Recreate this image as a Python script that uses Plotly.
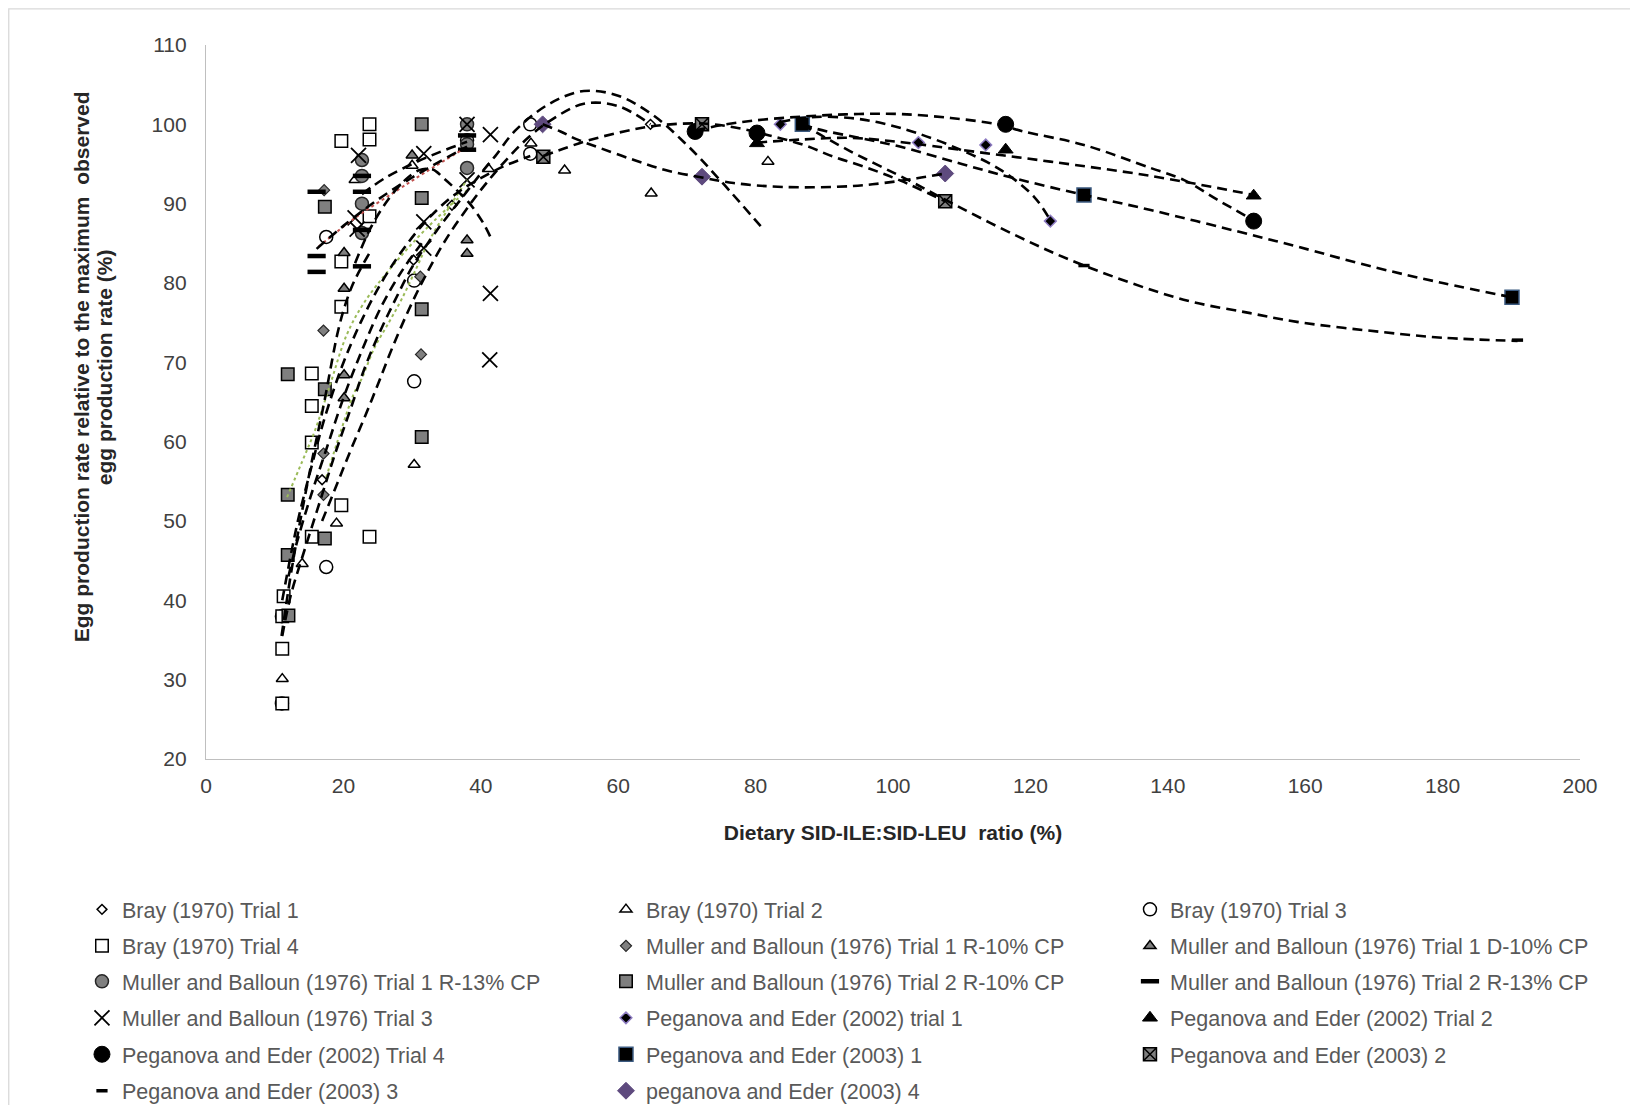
import plotly.graph_objects as go

# ---------------- data ----------------
bray1_x = [16.9, 30.2, 35.8, 64.7]
bray1_y = [55.2, 82.9, 89.8, 100.0]
bray2_x = [11.1, 14.0, 19.0, 30.3, 21.7, 23.8, 30.0, 41.1, 47.3, 52.2, 64.8, 81.8]
bray2_y = [30.1, 44.6, 49.7, 57.1, 93.0, 100.0, 94.8, 94.4, 97.6, 94.2, 91.3, 95.3]
bray3_x = [11.05, 11.05, 17.5, 17.5, 30.3, 30.3, 38.0, 47.2, 47.2]
bray3_y = [27.0, 38.0, 44.2, 85.8, 67.6, 80.3, 98.0, 100.0, 96.3]
bray4_x = [11.1, 11.1, 11.1, 11.3, 15.4, 15.4, 15.4, 15.4, 19.7, 19.7, 19.7, 19.7, 23.8, 23.8, 23.8, 23.8]
bray4_y = [27.0, 33.9, 38.0, 40.5, 48.0, 59.9, 64.5, 68.6, 52.0, 77.0, 82.7, 97.9, 48.0, 88.4, 98.1, 100.0]
m1r10_x = [17.2, 17.1, 17.1, 17.1, 31.3, 31.2]
m1r10_y = [91.7, 74.0, 58.5, 53.3, 71.0, 80.8]
m1d10_x = [20.1, 20.1, 20.1, 20.1, 30.0, 38.0, 38.0]
m1d10_y = [83.8, 79.3, 68.4, 65.5, 96.1, 85.4, 83.7]
m1r13_x = [22.7, 22.7, 22.7, 22.7, 38.0, 38.0, 38.0]
m1r13_y = [95.5, 93.5, 90.0, 86.3, 100.0, 97.5, 94.5]
m2r10_x = [11.9, 11.9, 11.9, 12.0, 17.3, 17.3, 17.3, 31.4, 31.4, 31.4, 31.4]
m2r10_y = [68.5, 53.3, 45.7, 38.1, 89.6, 66.6, 47.8, 100.0, 90.7, 76.7, 60.6]
m2r13_x = [16.1, 16.1, 16.1, 22.7, 22.7, 22.7, 22.7, 38.0, 38.0]
m2r13_y = [91.5, 83.4, 81.4, 91.5, 93.5, 86.7, 82.1, 98.6, 96.8]
m3_x = [22.2, 21.7, 22.0, 31.7, 31.7, 31.7, 38.0, 38.0, 41.4, 41.4, 41.3]
m3_y = [96.1, 88.2, 86.8, 96.3, 87.7, 84.4, 100.0, 93.0, 98.7, 78.7, 70.3]
p02t1_x = [83.6, 103.7, 113.5, 122.9]
p02t1_y = [100.0, 97.7, 97.4, 87.8]
p02t2_x = [80.2, 116.4, 152.5]
p02t2_y = [97.6, 96.8, 91.0]
p02t4_x = [71.2, 80.2, 116.4, 152.5]
p02t4_y = [99.1, 98.9, 100.0, 87.8]
p03a_x = [86.8, 127.8, 190.1]
p03a_y = [100.0, 91.1, 78.2]
p03b_x = [49.1, 72.2, 107.6]
p03b_y = [95.9, 100.0, 90.3]
p03c_x = [86.8, 127.8, 190.9]
p03c_y = [100.0, 82.2, 72.8]
p03d_x = [49.0, 72.2, 107.6]
p03d_y = [100.0, 93.4, 93.8]

# trend lines (read along the dashed curves of the reference)
tr_bray1_x = [16.9, 19, 21, 23.2, 25.1, 27.1, 29.5, 32, 35, 38.5, 41, 44, 47, 50, 55, 60, 64.7]
tr_bray1_y = [50, 54.5, 58.8, 63.3, 67.4, 71.8, 76.6, 81, 85.6, 90, 92.8, 95.8, 98.4, 100.4, 102.6, 102.3, 100]
tr_bray2_x = [11.1, 12.3, 14.4, 16.6, 18.8, 21, 23.2, 25.5, 27.5, 30, 33.5, 37.5, 40, 42.1, 45, 50, 55, 60, 65, 70, 75, 81.2]
tr_bray2_y = [35.5, 40.5, 46.5, 52.5, 58.5, 64, 69.5, 74.2, 77.8, 82, 86.5, 91, 93.8, 96, 99.2, 102.6, 104.2, 103.6, 101.2, 97.4, 92.8, 86.7]
tr_bray3_x = [11.1, 12.3, 13.5, 15.4, 17.1, 19.8, 22.5, 25.5, 28.5, 31.5, 35, 38, 40.4, 43.3, 47.2]
tr_bray3_y = [40, 45.5, 50.5, 57, 62.5, 69.5, 75, 80, 84, 87.3, 90.3, 92.2, 93.4, 94.7, 96]
tr_bray4_x = [11.0, 12.3, 13.5, 15.4, 17.1, 18.3, 19.1, 20, 21.2, 22.2, 23.8]
tr_bray4_y = [35.5, 43, 49, 57.5, 64.5, 70, 73.5, 76.5, 79.5, 81.3, 83.8]
tr_m2r10_x = [12, 13.2, 15.2, 17.5, 20, 22.7, 25.5, 28.5, 31.4]
tr_m2r10_y = [43, 47.2, 53, 59, 65.5, 71.5, 77, 81.5, 85]
tr_m1r13_x = [22.7, 26, 30, 34, 38]
tr_m1r13_y = [91.2, 93.2, 95, 96.5, 97.8]
tr_m2r13_x = [16.1, 20, 25, 30, 34, 38]
tr_m2r13_y = [84.3, 87.2, 90.5, 93.3, 95.3, 97.2]
tr_red_x = [16.4, 21.7, 27.5, 32, 37.3]
tr_red_y = [84.6, 88.2, 91.5, 94, 96.8]
tr_m3_x = [21.7, 24, 26.5, 29, 31, 33, 34.6, 36.5, 38.4, 40.4, 41.4]
tr_m3_y = [82.5, 87, 90.5, 93, 94.2, 94.3, 93.2, 91.7, 90, 87.5, 85.8]
tr_green1_x = [11.8, 14, 15.9, 18, 20.5, 23, 27, 32, 38]
tr_green1_y = [53, 57.5, 61.5, 67, 73.5, 77.5, 82, 86.8, 91.7]
tr_green2_x = [17.5, 19.5, 21.5, 22.7, 24.5, 26.6, 28.5, 30.7, 32.4, 35, 38]
tr_green2_y = [55.5, 61, 66, 68, 71.8, 75, 78, 82, 85.2, 89, 93]
tr_p02t1_x = [83.6, 88, 93.8, 98.6, 103.5, 109.8, 115.6, 120.5, 122.9]
tr_p02t1_y = [100.3, 100.9, 100.8, 100.1, 98.9, 96.8, 94.3, 90.9, 87.9]
tr_p02t2_x = [80.2, 87, 93.8, 99.6, 103.7, 113.2, 122.9, 137.5, 152.5]
tr_p02t2_y = [97.7, 98.1, 98.3, 97.9, 97.5, 96.4, 95.3, 93.5, 91.1]
tr_p02t4_x = [71.2, 75, 80, 89, 95, 101, 108.4, 115.2, 119, 127.8, 137.5, 142.3, 147.2, 152.5]
tr_p02t4_y = [99.2, 99.9, 100.5, 101.1, 101.3, 101.3, 100.8, 100, 99.1, 97.4, 94.5, 93, 90.5, 87.9]
tr_p03a_x = [86.8, 89, 95, 101, 110, 118.1, 127.8, 137.5, 152, 158.8, 170, 180, 190.1]
tr_p03a_y = [100, 99.4, 98.3, 97.2, 95, 93.1, 91.1, 89.2, 86.1, 84.6, 82, 80, 78.2]
tr_p03b_x = [49.1, 55, 59.8, 63.7, 67.6, 72.4, 77, 82, 87, 91.4, 96, 101.1, 107.6]
tr_p03b_y = [96, 97.8, 98.9, 99.6, 100, 100.1, 99.6, 98.6, 97.4, 95.9, 94.6, 92.9, 90.3]
tr_p03c_x = [86.8, 90, 93.8, 102.6, 107.6, 118.1, 127.8, 142.3, 152, 158.8, 171.4, 180, 190.9]
tr_p03c_y = [100, 98.4, 96.6, 92.8, 90.5, 85.9, 82.2, 77.9, 76.2, 75.1, 73.8, 73.1, 72.7]
tr_p03d_x = [49, 51.6, 54, 57.4, 62.3, 67, 72.2, 76.8, 84.1, 93.8, 98.6, 103.5, 107.6]
tr_p03d_y = [100, 99.1, 98.1, 97, 95.5, 94.2, 93.3, 92.6, 92.1, 92.2, 92.6, 93.2, 93.8]

x_ticks = [0, 20, 40, 60, 80, 100, 120, 140, 160, 180, 200]
y_ticks = [20, 30, 40, 50, 60, 70, 80, 90, 100, 110]
y_title_lines = ["Egg production rate relative to the maximum  observed", "egg production rate (%)"]
x_title = "Dietary SID-ILE:SID-LEU  ratio (%)"

GRAY = "#7F7F7F"
series = [
    ("Bray (1970) Trial 1", bray1_x, bray1_y, dict(symbol="diamond", size=7.5, color="white", line=dict(color="black", width=1.5))),
    ("Bray (1970) Trial 2", bray2_x, bray2_y, dict(symbol="triangle-up", size=10.5, color="white", line=dict(color="black", width=1.5))),
    ("Bray (1970) Trial 3", bray3_x, bray3_y, dict(symbol="circle", size=13, color="white", line=dict(color="black", width=1.5))),
    ("Bray (1970) Trial 4", bray4_x, bray4_y, dict(symbol="square", size=12.5, color="white", line=dict(color="black", width=1.5))),
    ("Muller and Balloun (1976) Trial 1 R-10% CP", m1r10_x, m1r10_y, dict(symbol="diamond", size=8.5, color=GRAY, line=dict(color="#262626", width=1.2))),
    ("Muller and Balloun (1976) Trial 1 D-10% CP", m1d10_x, m1d10_y, dict(symbol="triangle-up", size=10.5, color=GRAY, line=dict(color="black", width=1.5))),
    ("Muller and Balloun (1976) Trial 1 R-13% CP", m1r13_x, m1r13_y, dict(symbol="circle", size=13, color=GRAY, line=dict(color="#262626", width=1.5))),
    ("Muller and Balloun (1976) Trial 2 R-10% CP", m2r10_x, m2r10_y, dict(symbol="square", size=12.5, color=GRAY, line=dict(color="black", width=1.5))),
    ("Muller and Balloun (1976) Trial 2 R-13% CP", m2r13_x, m2r13_y, dict(symbol="line-ew", size=13, color="black", line=dict(color="black", width=4.5))),
    ("Muller and Balloun (1976) Trial 3", m3_x, m3_y, dict(symbol="x-thin", size=15, color="black", line=dict(color="black", width=1.8))),
    ("Peganova and Eder (2002) trial 1", p02t1_x, p02t1_y, dict(symbol="diamond", size=9, color="black", line=dict(color="#8E7CC3", width=1.5))),
    ("Peganova and Eder (2002) Trial 2", p02t2_x, p02t2_y, dict(symbol="triangle-up", size=13, color="black", line=dict(color="black", width=1))),
    ("Peganova and Eder (2002) Trial 4", p02t4_x, p02t4_y, dict(symbol="circle", size=16, color="black", line=dict(color="black", width=1))),
    ("Peganova and Eder (2003) 1", p03a_x, p03a_y, dict(symbol="square", size=14, color="black", line=dict(color="#3B5A80", width=1.5))),
    ("Peganova and Eder (2003) 2", p03b_x, p03b_y, dict(symbol="square-x", size=13, color=GRAY, line=dict(color="black", width=1.5))),
    ("Peganova and Eder (2003) 3", p03c_x, p03c_y, dict(symbol="line-ew", size=8, color="black", line=dict(color="black", width=3.5))),
    ("peganova and Eder (2003) 4", p03d_x, p03d_y, dict(symbol="diamond", size=13, color="#5E4A7E", line=dict(color="#5E4A7E", width=1))),
]

fig = go.Figure()
legend_ids = ["legend", "legend2", "legend3", "legend4", "legend5", "legend6"]
for i, (name, xs, ys, mk) in enumerate(series):
    fig.add_trace(go.Scatter(x=xs, y=ys, mode="markers", name=name, marker=mk,
                             legend=legend_ids[i // 3], cliponaxis=False))

DASH = "10px,6px"
trends = [
    (tr_bray1_x, tr_bray1_y), (tr_bray2_x, tr_bray2_y), (tr_bray3_x, tr_bray3_y),
    (tr_bray4_x, tr_bray4_y), (tr_m2r10_x, tr_m2r10_y), (tr_m1r13_x, tr_m1r13_y),
    (tr_m2r13_x, tr_m2r13_y), (tr_m3_x, tr_m3_y), (tr_p02t1_x, tr_p02t1_y),
    (tr_p02t2_x, tr_p02t2_y), (tr_p02t4_x, tr_p02t4_y), (tr_p03a_x, tr_p03a_y),
    (tr_p03b_x, tr_p03b_y), (tr_p03c_x, tr_p03c_y), (tr_p03d_x, tr_p03d_y),
]
for tx, ty in [(tr_green1_x, tr_green1_y), (tr_green2_x, tr_green2_y)]:
    fig.add_trace(go.Scatter(x=tx, y=ty, mode="lines", showlegend=False, hoverinfo="skip",
                             line=dict(color="#9BBB59", width=2, dash="dot", shape="spline")))
fig.add_trace(go.Scatter(x=tr_red_x, y=tr_red_y, mode="lines", showlegend=False, hoverinfo="skip",
                         line=dict(color="#C0504D", width=2, dash="dot", shape="spline")))
for tx, ty in trends:
    fig.add_trace(go.Scatter(x=tx, y=ty, mode="lines", showlegend=False, hoverinfo="skip",
                             line=dict(color="black", width=2.6, dash=DASH, shape="spline")))

FONT = "Arial, Liberation Sans, sans-serif"
# the page body adds an 8px offset, so the figure is laid out in its own coordinates
W, H = 1630, 1097
L, T = 198, 37
pw, ph = 1373.7, 714.5
R = W - L - pw
B = H - T - ph

def py(v):  # figure pixel row -> paper y
    return (H - B - v) / ph

def px(v):  # figure pixel column -> paper x
    return (v - L) / pw

row_px = [902, 938.5, 974, 1010.5, 1047, 1083.5]
legends = {}
for k, lid in enumerate(legend_ids):
    legends[lid] = dict(orientation="h", x=px(74), xanchor="left",
                        y=py(row_px[k]), yanchor="middle",
                        entrywidth=479, entrywidthmode="pixels",
                        font=dict(family=FONT, size=21.5, color="#595959"),
                        bgcolor="rgba(0,0,0,0)", traceorder="normal")

annotations = [
    dict(text="<b>%s</b>" % y_title_lines[0], textangle=-90, xref="paper", yref="paper",
         x=px(73.5), y=py(359), xanchor="center", yanchor="middle", showarrow=False,
         font=dict(family=FONT, size=21, color="#262626")),
    dict(text="<b>%s</b>" % y_title_lines[1], textangle=-90, xref="paper", yref="paper",
         x=px(96.5), y=py(359), xanchor="center", yanchor="middle", showarrow=False,
         font=dict(family=FONT, size=21, color="#262626")),
]

fig.update_layout(
    width=W, height=H,
    margin=dict(l=L, r=R, t=T, b=B, autoexpand=False),
    paper_bgcolor="white", plot_bgcolor="white",
    font=dict(family=FONT, size=21, color="#404040"),
    xaxis=dict(range=[0, 200], tickvals=x_ticks, showgrid=False, zeroline=False,
               showline=True, linecolor="#BFBFBF", linewidth=1.3, ticks="",
               tickfont=dict(size=21, color="#404040"), ticklabelstandoff=8,
               title=dict(text="<b>%s</b>" % x_title,
                          font=dict(size=21, color="#262626"), standoff=28)),
    yaxis=dict(range=[20, 110], tickvals=y_ticks, showgrid=False, zeroline=False,
               showline=True, linecolor="#BFBFBF", linewidth=1.3, ticks="",
               tickfont=dict(size=21, color="#404040"), ticklabelstandoff=14),
    annotations=annotations,
    shapes=[dict(type="rect", xref="paper", yref="paper",
                 x0=px(0.8), x1=px(W + 10), y0=py(H + 10), y1=py(0.8),
                 line=dict(color="#D9D9D9", width=1.3), fillcolor="rgba(0,0,0,0)", layer="below")],
    **legends,
)

fig.write_html("out.html")
